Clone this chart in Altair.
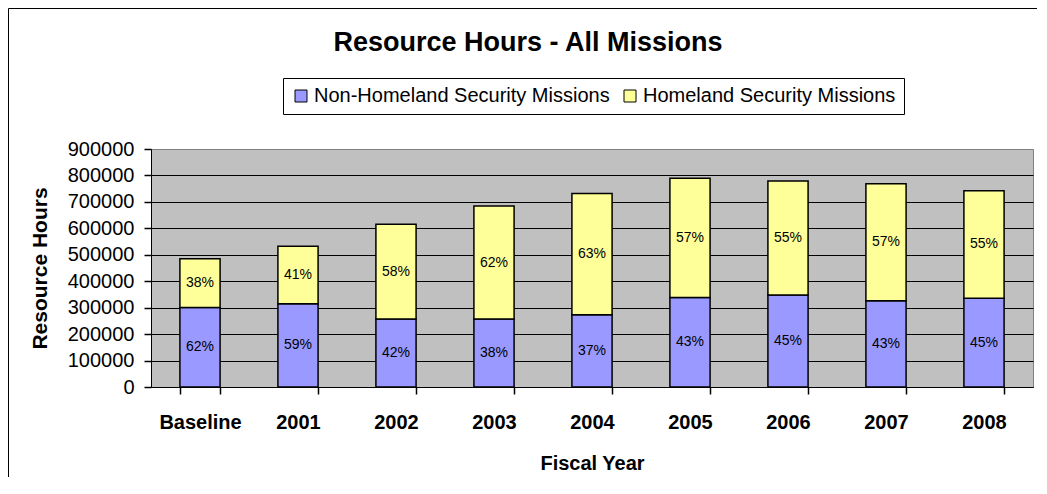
import altair as alt
import pandas as pd

FONT = "Liberation Sans"

categories = ["Baseline", "2001", "2002", "2003", "2004", "2005", "2006", "2007", "2008"]
non_hs = [301000, 315000, 257000, 257000, 273000, 338000, 348000, 326000, 336000]
hs = [184000, 217000, 358000, 427000, 459000, 451000, 431000, 443000, 406000]
non_hs_pct = ["62%", "59%", "42%", "38%", "37%", "43%", "45%", "43%", "45%"]
hs_pct = ["38%", "41%", "58%", "62%", "63%", "57%", "55%", "57%", "55%"]
series = ["Non-Homeland Security Missions", "Homeland Security Missions"]
colors = ["#9999FF", "#FFFF99"]
y_ticks = [0, 100000, 200000, 300000, 400000, 500000, 600000, 700000, 800000, 900000]

rows = []
for i, c in enumerate(categories):
    rows.append(dict(year=c, series=series[0], value=non_hs[i], label=non_hs_pct[i],
                     order=0, mid=non_hs[i] / 2))
    rows.append(dict(year=c, series=series[1], value=hs[i], label=hs_pct[i],
                     order=1, mid=non_hs[i] + hs[i] / 2))
df = pd.DataFrame(rows)

x_scale = alt.Scale(paddingInner=0.59, paddingOuter=0.295)
y_scale = alt.Scale(domain=[0, 900000], nice=False)


def x_axis():
    return alt.Axis(labelAngle=0, labelFont=FONT, labelFontSize=20, labelFontWeight="bold",
                    labelColor="black", labelPadding=18, ticks=True, tickBand="extent",
                    tickExtra=True, tickSize=7, tickColor="black", tickWidth=1.5,
                    domainColor="black", grid=False,
                    titleFont=FONT, titleFontSize=20, titleFontWeight="bold",
                    titleColor="black", titlePadding=21)


def y_axis():
    return alt.Axis(values=y_ticks, format="d", labelFont=FONT, labelFontSize=20,
                    labelColor="black", labelPadding=10, labelOverlap=False, ticks=True,
                    tickSize=7, tickColor="black", tickWidth=1.5, domainColor="black",
                    gridColor=alt.condition("datum.value >= 900000", alt.value("#808080"),
                                            alt.value("black")),
                    gridWidth=1,
                    titleFont=FONT, titleFontSize=21, titleFontWeight="bold",
                    titleColor="black", titlePadding=17)


bars = alt.Chart(df).mark_bar(stroke="black", strokeWidth=1.5).encode(
    x=alt.X("year:N", sort=categories, title="Fiscal Year", scale=x_scale, axis=x_axis()),
    y=alt.Y("value:Q", stack="zero", title="Resource Hours", scale=y_scale, axis=y_axis()),
    color=alt.Color(
        "series:N",
        scale=alt.Scale(domain=series, range=colors),
        legend=alt.Legend(orient="none", legendX=132, legendY=-71, direction="horizontal",
                          title=None, labelFont=FONT, labelFontSize=20, labelColor="black",
                          symbolType="square", symbolSize=144, symbolStrokeColor="black",
                          symbolStrokeWidth=1, symbolOpacity=1, strokeColor="black",
                          fillColor="white", padding=8, columnPadding=10, labelOffset=3,
                          labelLimit=0),
    ),
    order=alt.Order("order:Q"),
)

labels = alt.Chart(df).mark_text(font=FONT, fontSize=14, color="black").encode(
    x=alt.X("year:N", sort=categories, title="Fiscal Year", scale=x_scale, axis=x_axis()),
    y=alt.Y("mid:Q", title="Resource Hours", scale=y_scale, axis=y_axis()),
    text="label:N",
)

frame = alt.Chart(alt.Data(values=[{"k": 1}])).mark_rect(
    stroke="black", strokeWidth=1, fillOpacity=0
).encode(x=alt.value(-142.5), x2=alt.value(3000), y=alt.value(-140.5), y2=alt.value(3000))

chart = alt.layer(bars, labels, frame).properties(
    width=882, height=238,
    title=alt.TitleParams("Resource Hours - All Missions", font=FONT, fontSize=27,
                          fontWeight="bold", color="black", anchor="middle", dx=-64,
                          offset=-70, baseline="alphabetic"),
    autosize=alt.AutoSizeParams(type="none"),
    padding={"left": 143, "top": 141, "right": 4, "bottom": 90},
).configure(background="white").configure_view(stroke="#808080", fill="#C0C0C0")

chart.save("out.html", embed_options={"renderer": "svg", "actions": False})
